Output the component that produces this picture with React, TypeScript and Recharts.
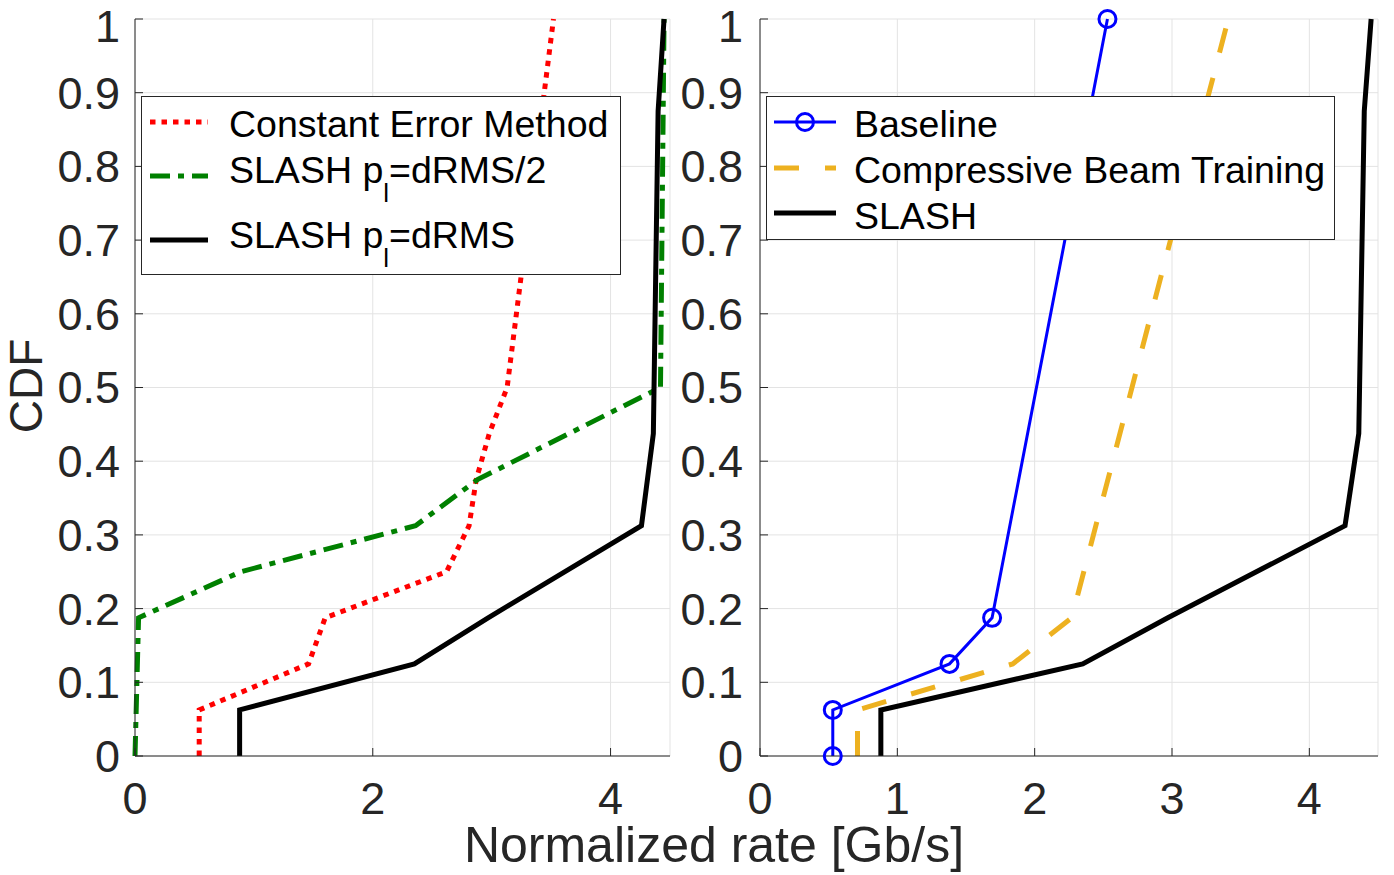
import { LineChart, Line, XAxis, YAxis, CartesianGrid, Legend } from 'recharts';

const FONT = '"Liberation Sans", Arial, Helvetica, sans-serif';
const AXIS = '#262626';
const GRID = '#e3e3e3';

// tick labels
const yTicks = [0, 0.1, 0.2, 0.3, 0.4, 0.5, 0.6, 0.7, 0.8, 0.9, 1];
const leftXTicks = [0, 2, 4];
const rightXTicks = [0, 1, 2, 3, 4];

// left panel
const cemX = [0.54, 0.54, 1.46, 1.6, 2.62, 2.81, 2.87, 2.98, 3.13, 3.52];
const cemY = [0, 0.0625, 0.125, 0.1875, 0.25, 0.3125, 0.375, 0.4375, 0.5, 1];
const halfX = [0, 0.03, 0.89, 2.36, 2.88, 4.42, 4.45];
const halfY = [0, 0.1875, 0.25, 0.3125, 0.375, 0.5, 1];

// SLASH (both panels)
const slashX = [0.88, 0.88, 2.35, 2.97, 4.26, 4.36, 4.4, 4.45];
const slashY = [0, 0.0625, 0.125, 0.1875, 0.3125, 0.4375, 0.875, 1];

// right panel
const baseX = [0.53, 0.53, 1.38, 1.69, 2.53];
const baseY = [0, 0.0625, 0.125, 0.1875, 1];
const cbtX = [0.71, 0.71, 1.84, 2.27, 3.41];
const cbtY = [0, 0.0625, 0.125, 0.1875, 1];

const zip = (xs: number[], ys: number[]) => xs.map((x, i) => ({ x, y: ys[i] }));

const cemData = zip(cemX, cemY);
const halfData = zip(halfX, halfY);
const slashData = zip(slashX, slashY);
const baseData = zip(baseX, baseY);
const cbtData = zip(cbtX, cbtY);

const fmtY = (v: number) => (v === 0 ? '0' : v === 1 ? '1' : v.toFixed(1));
const tickStyle = { fill: AXIS, fontSize: 45, fontFamily: FONT };

function LeftLegend() {
  return (
    <svg width={480} height={179} style={{ display: 'block' }}>
      <rect x={0.5} y={0.5} width={479} height={178} fill="#fff" stroke={AXIS} strokeWidth={1} />
      <line x1={9} x2={67} y1={26} y2={26} stroke="#ff0000" strokeWidth={5} strokeDasharray="5.5 6" />
      <line x1={9} x2={67} y1={80} y2={80} stroke="#008000" strokeWidth={5} strokeDasharray="20 8 6 8" />
      <line x1={9} x2={67} y1={144} y2={144} stroke="#000" strokeWidth={5} />
      <g fontFamily={FONT} fontSize={37.5} fill="#000">
        <text x={88} y={41}>Constant Error Method</text>
        <text x={88} y={87}>
          SLASH p<tspan fontSize={26} dy={19}>l</tspan>
          <tspan dy={-19}>=dRMS/2</tspan>
        </text>
        <text x={88} y={152}>
          SLASH p<tspan fontSize={26} dy={19}>l</tspan>
          <tspan dy={-19}>=dRMS</tspan>
        </text>
      </g>
    </svg>
  );
}

function RightLegend() {
  return (
    <svg width={569} height={144} style={{ display: 'block' }}>
      <rect x={0.5} y={0.5} width={568} height={143} fill="#fff" stroke={AXIS} strokeWidth={1} />
      <line x1={8} x2={70} y1={26} y2={26} stroke="#0000ff" strokeWidth={3} />
      <circle cx={39} cy={26} r={8.5} fill="none" stroke="#0000ff" strokeWidth={3} />
      <line x1={8} x2={70} y1={72} y2={72} stroke="#EDB120" strokeWidth={5} strokeDasharray="25 26" />
      <line x1={8} x2={70} y1={117} y2={117} stroke="#000" strokeWidth={5} />
      <g fontFamily={FONT} fontSize={37.5} fill="#000">
        <text x={88} y={41}>Baseline</text>
        <text x={88} y={87}>Compressive Beam Training</text>
        <text x={88} y={133}>SLASH</text>
      </g>
    </svg>
  );
}

export default function App() {
  return (
    <div
      style={{
        position: 'absolute',
        left: 0,
        top: 0,
        width: 1394,
        height: 875,
        background: '#fff',
        fontFamily: FONT,
      }}
    >
      <div style={{ position: 'absolute', left: 0, top: 0 }}>
        <LineChart width={700} height={875} margin={{ top: 19, right: 30, bottom: 0, left: 0 }}>
          <CartesianGrid stroke={GRID} strokeWidth={1} />
          <XAxis
            type="number"
            dataKey="x"
            domain={[0, 4.5]}
            ticks={leftXTicks}
            height={119}
            tickSize={-8}
            tickMargin={34}
            tick={tickStyle}
            axisLine={{ stroke: AXIS }}
            tickLine={{ stroke: AXIS }}
          />
          <XAxis
            xAxisId="top"
            orientation="top"
            type="number"
            domain={[0, 4.5]}
            ticks={leftXTicks}
            height={0}
            tickSize={-8}
            tick={false}
            axisLine={{ stroke: AXIS }}
            tickLine={{ stroke: AXIS }}
          />
          <YAxis
            type="number"
            domain={[0, 1]}
            ticks={yTicks}
            width={135}
            tickSize={-8}
            tickMargin={23}
            tick={tickStyle}
            tickFormatter={fmtY}
            axisLine={{ stroke: AXIS }}
            tickLine={{ stroke: AXIS }}
          />
          <YAxis
            yAxisId="right"
            orientation="right"
            type="number"
            domain={[0, 1]}
            ticks={yTicks}
            width={0}
            tickSize={-8}
            tick={false}
            axisLine={{ stroke: AXIS }}
            tickLine={{ stroke: AXIS }}
          />
          <Legend
            layout="vertical"
            align="center"
            verticalAlign="middle"
            wrapperStyle={{ left: 141, top: 96, width: 480, height: 179 }}
            content={() => <LeftLegend />}
          />
          <Line
            data={cemData}
            dataKey="y"
            type="linear"
            stroke="#ff0000"
            strokeWidth={5}
            strokeDasharray="5.5 6"
            dot={false}
            isAnimationActive={false}
          />
          <Line
            data={halfData}
            dataKey="y"
            type="linear"
            stroke="#008000"
            strokeWidth={5}
            strokeDasharray="20 8 6 8"
            dot={false}
            isAnimationActive={false}
          />
          <Line
            data={slashData}
            dataKey="y"
            type="linear"
            stroke="#000"
            strokeWidth={5}
            dot={false}
            isAnimationActive={false}
          />
        </LineChart>
      </div>

      <div style={{ position: 'absolute', left: 680, top: 0 }}>
        <LineChart width={714} height={875} margin={{ top: 19, right: 16, bottom: 0, left: 0 }}>
          <CartesianGrid stroke={GRID} strokeWidth={1} />
          <XAxis
            type="number"
            dataKey="x"
            domain={[0, 4.5]}
            ticks={rightXTicks}
            height={119}
            tickSize={-8}
            tickMargin={34}
            tick={tickStyle}
            axisLine={{ stroke: AXIS }}
            tickLine={{ stroke: AXIS }}
          />
          <XAxis
            xAxisId="top"
            orientation="top"
            type="number"
            domain={[0, 4.5]}
            ticks={rightXTicks}
            height={0}
            tickSize={-8}
            tick={false}
            axisLine={{ stroke: AXIS }}
            tickLine={{ stroke: AXIS }}
          />
          <YAxis
            type="number"
            domain={[0, 1]}
            ticks={yTicks}
            width={80}
            tickSize={-8}
            tickMargin={25}
            tick={tickStyle}
            tickFormatter={fmtY}
            axisLine={{ stroke: AXIS }}
            tickLine={{ stroke: AXIS }}
          />
          <YAxis
            yAxisId="right"
            orientation="right"
            type="number"
            domain={[0, 1]}
            ticks={yTicks}
            width={0}
            tickSize={-8}
            tick={false}
            axisLine={{ stroke: AXIS }}
            tickLine={{ stroke: AXIS }}
          />
          <Legend
            layout="vertical"
            align="center"
            verticalAlign="middle"
            wrapperStyle={{ left: 86, top: 96, width: 569, height: 144 }}
            content={() => <RightLegend />}
          />
          <Line
            data={cbtData}
            dataKey="y"
            type="linear"
            stroke="#EDB120"
            strokeWidth={5}
            strokeDasharray="25 26"
            dot={false}
            isAnimationActive={false}
          />
          <Line
            data={slashData}
            dataKey="y"
            type="linear"
            stroke="#000"
            strokeWidth={5}
            dot={false}
            isAnimationActive={false}
          />
          <Line
            data={baseData}
            dataKey="y"
            type="linear"
            stroke="#0000ff"
            strokeWidth={3}
            dot={{ r: 8.5, stroke: '#0000ff', strokeWidth: 3, fill: 'none' }}
            isAnimationActive={false}
          />
        </LineChart>
      </div>

      <svg
        width={1394}
        height={875}
        style={{ position: 'absolute', left: 0, top: 0, pointerEvents: 'none' }}
      >
        <text
          x={714}
          y={862}
          textAnchor="middle"
          fontFamily={FONT}
          fontSize={50}
          fill={AXIS}
        >
          Normalized rate [Gb/s]
        </text>
        <text
          transform="translate(42 386) rotate(-90)"
          textAnchor="middle"
          fontFamily={FONT}
          fontSize={46}
          fill={AXIS}
        >
          CDF
        </text>
      </svg>
    </div>
  );
}
